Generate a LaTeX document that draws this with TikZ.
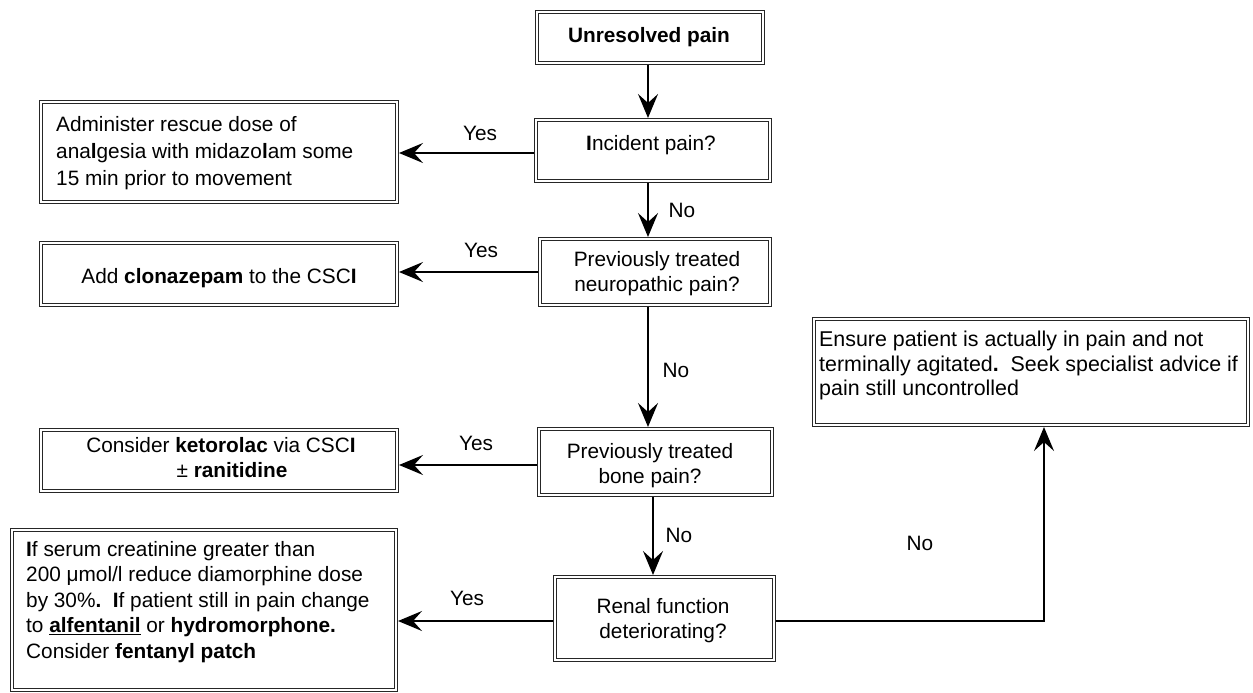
\documentclass[tikz,border=0pt]{standalone}
\usepackage{fontspec}
\setmainfont{Liberation Sans}
\usetikzlibrary{arrows.meta,calc}
\begin{document}
\begin{tikzpicture}[x=1pt,y=-1pt,
  box/.style={draw=black!85, double, double distance=2.2pt, line width=1pt, inner sep=0pt, outer sep=2.1pt},
  txt/.style={inner sep=0pt, font=\fontsize{20.8}{25.5}\selectfont},
  lbl/.style={inner sep=0pt, font=\fontsize{20.8}{25.5}\selectfont},
  arr/.style={line width=1.6pt, -{Stealth[length=24pt,width=20pt,inset=9pt]}},
  ln/.style={line width=1.6pt}]
\useasboundingbox (0,0) rectangle (1253,693);

% boxes
\node[box, minimum width=225.8pt, minimum height=50.8pt] (start) at (650,37.5) {};
\node[box, minimum width=233.8pt, minimum height=60.8pt] (inc) at (653,150.5) {};
\node[box, minimum width=355.8pt, minimum height=99.8pt] (adm) at (219,152) {};
\node[box, minimum width=229.8pt, minimum height=65.8pt] (neuro) at (655,272) {};
\node[box, minimum width=355.8pt, minimum height=61.8pt] (clon) at (219,274) {};
\node[box, minimum width=355.8pt, minimum height=60.8pt] (ket) at (219,460.5) {};
\node[box, minimum width=232.8pt, minimum height=65.8pt] (bone) at (655.5,462) {};
\node[box, minimum width=383.8pt, minimum height=159.8pt] (creat) at (204,610) {};
\node[box, minimum width=218.8pt, minimum height=82.8pt] (renal) at (664.5,618.5) {};
\node[box, minimum width=433.8pt, minimum height=105.8pt] (ens) at (1031,372) {};

% texts
\node[txt, anchor=base] (t1) at (649,43) {\textbf{Unresolved pain}};
\node[txt, anchor=base] (t2) at (651,150) {\textbf{I}ncident pain?};
\node[txt, anchor=north west, align=left, font=\fontsize{20.8}{27}\selectfont] (t3) at (56,116)
  {Administer rescue dose of\\ana\textbf{l}gesia with midazo\textbf{l}am some\\15 min prior to movement};
\node[txt, anchor=north, align=center] (t4) at (657,251) {Previously treated\\neuropathic pain?};
\node[txt, anchor=base] (t5) at (219,283) {Add \textbf{clonazepam} to the CSC\textbf{I}};
\node[txt, anchor=north, align=center] (t6) at (221,437) {Consider \textbf{ketorolac} via CSC\textbf{I}\\\hspace*{22pt}± \textbf{ranitidine}};
\node[txt, anchor=north, align=center] (t7) at (650,443) {Previously treated\\bone pain?};
\node[txt, anchor=north, align=center] (t8) at (663,598) {Renal function\\deteriorating?};
\node[txt, anchor=north west, align=left] (t9) at (26,541)
  {\textbf{I}f serum creatinine greater than\\200 μmol/l reduce diamorphine dose\\by 30\%\textbf{.}\ \ \textbf{I}f patient still in pain change\\to \underline{\textbf{alfentanil}} or \textbf{hydromorphone.}\\Consider \textbf{fentanyl patch}};
\node[txt, anchor=north west, align=left, font=\fontsize{21.4}{24.5}\selectfont] (t10) at (819,331)
  {Ensure patient is actually in pain and not\\terminally agitated\textbf{.}\ \ Seek specialist advice if\\pain still uncontrolled};

% helper coordinates
\coordinate (xa) at (648,0);
\coordinate (xb) at (653,0);
\coordinate (xc) at (1044,0);
\coordinate (ya) at (0,153);
\coordinate (yb) at (0,272);
\coordinate (yc) at (0,465);
\coordinate (yd) at (0,621);

% vertical connectors
\draw[arr] (start.south -| xa) -- (inc.north -| xa);
\draw[arr] (inc.south -| xa) -- (neuro.north -| xa);
\draw[arr] (neuro.south -| xa) -- (bone.north -| xa);
\draw[arr] (bone.south -| xb) -- (renal.north -| xb);

% yes connectors
\draw[arr] (inc.west |- ya) -- (adm.east |- ya);
\draw[arr] (neuro.west |- yb) -- (clon.east |- yb);
\draw[arr] (bone.west |- yc) -- (ket.east |- yc);
\draw[arr] (renal.west |- yd) -- (creat.east |- yd);

% renal -> ensure
\draw[arr] (renal.east |- yd) -| (ens.south -| xc);

% labels
\node[lbl] (y1) at (480,133) {Yes};
\node[lbl] (y2) at (481,250) {Yes};
\node[lbl] (y3) at (476,443) {Yes};
\node[lbl] (y4) at (467,598) {Yes};
\node[lbl] (n1) at (682,210) {No};
\node[lbl] (n2) at (676,370) {No};
\node[lbl] (n3) at (679,535) {No};
\node[lbl] (n4) at (920,543) {No};
\end{tikzpicture}
\end{document}
